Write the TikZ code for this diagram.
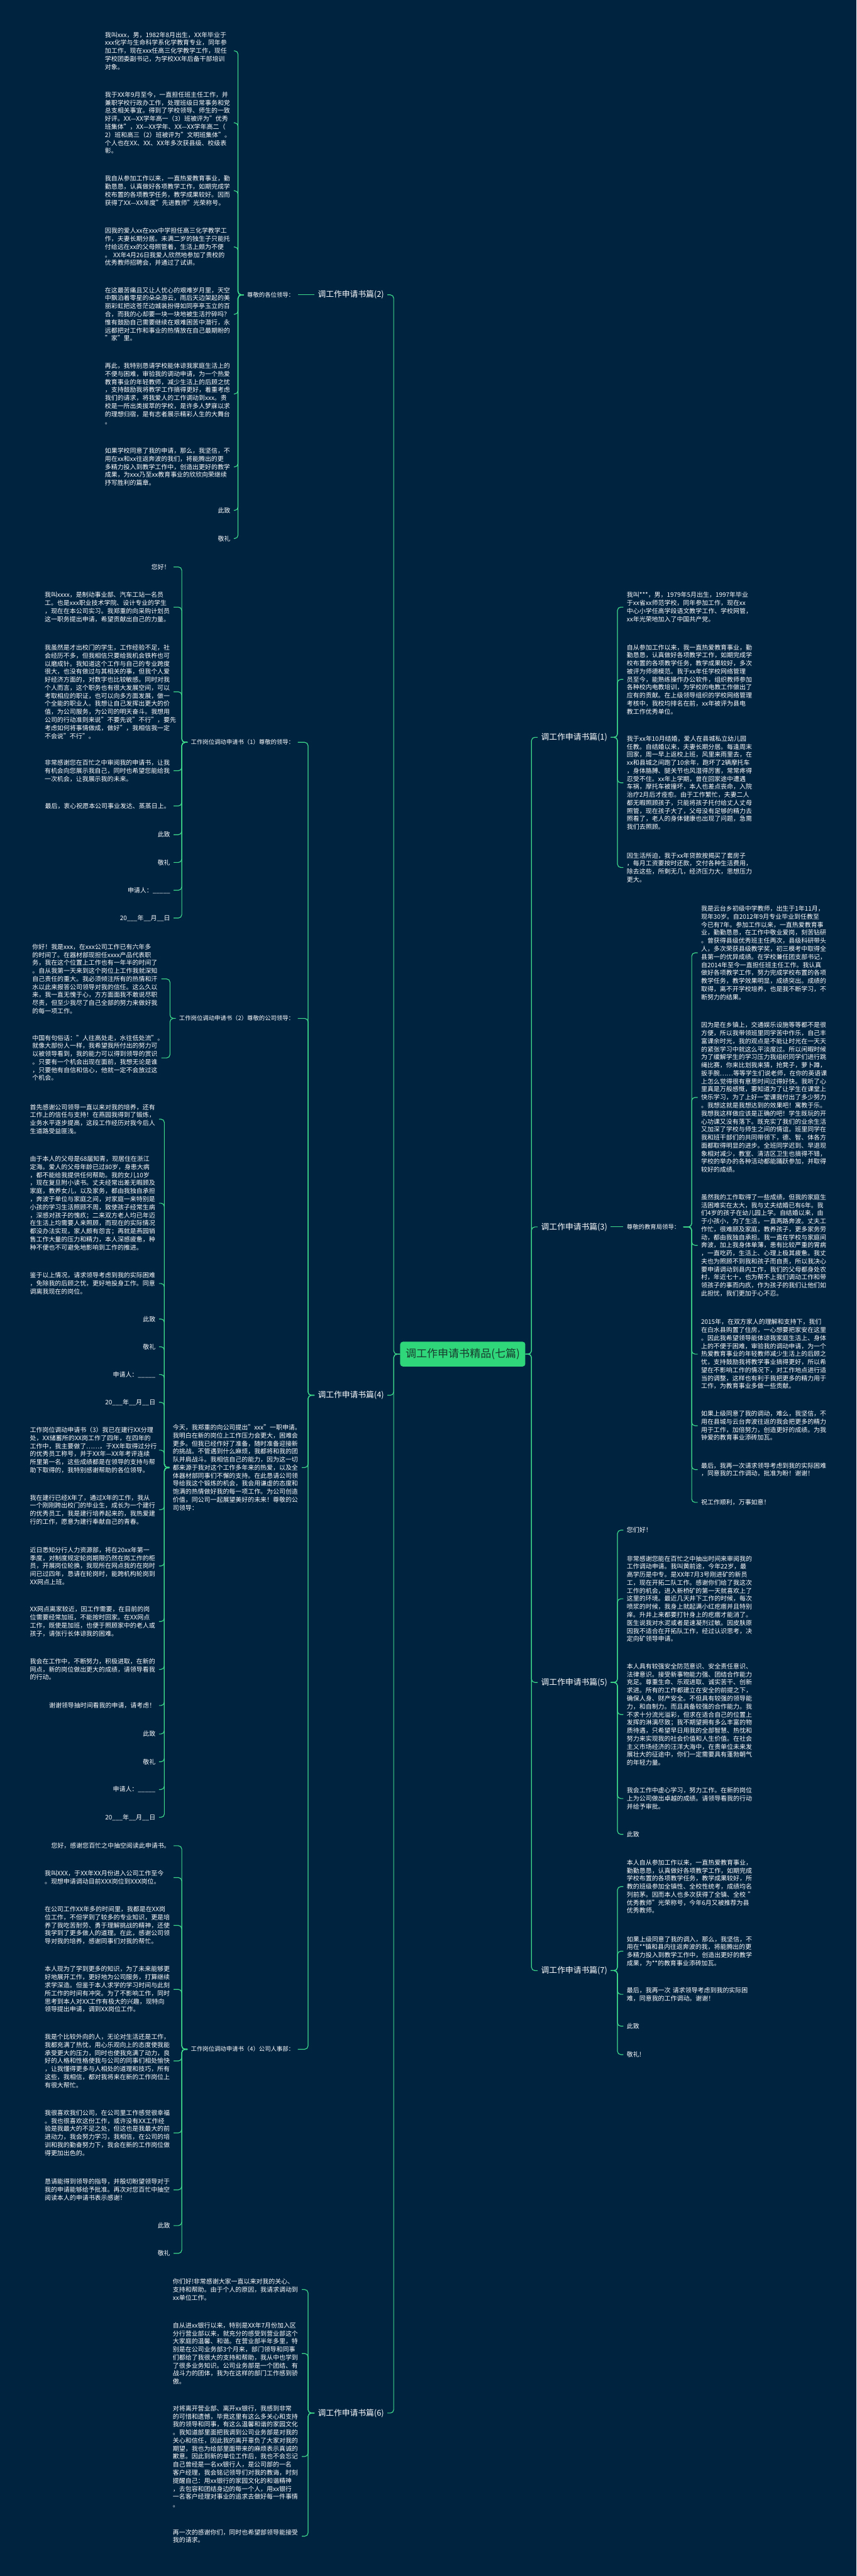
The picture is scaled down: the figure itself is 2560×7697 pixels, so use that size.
\documentclass[tikz,border=0pt]{standalone}
\usepackage{fontspec}
\setmainfont{Noto Sans CJK SC}
\definecolor{bgnavy}{HTML}{002340}
\definecolor{linkgreen}{HTML}{3ED98A}
\definecolor{rootgreen}{HTML}{30D67A}
\definecolor{rootink}{HTML}{173A2E}
\begin{document}
\begin{tikzpicture}[
        x=0.5pt, y=-0.5pt,
        root/.style={rectangle, rounded corners=4pt, fill=rootgreen, text=rootink, font=\fontsize{16pt}{19pt}\selectfont, minimum width=187pt, minimum height=37pt},
        branch/.style={text=white, font=\fontsize{12pt}{14pt}\selectfont, inner xsep=5pt, inner ysep=2pt},
        head/.style={text=white, font=\fontsize{8.8pt}{12pt}\selectfont, inner xsep=5pt, inner ysep=2pt},
        note/.style={text=white, font=\fontsize{9.35pt}{12pt}\selectfont, inner xsep=5pt, inner ysep=2pt},
        para/.style={note, text width=187.5pt, align=left},
        noteL/.style={note, anchor=east}, noteR/.style={note, anchor=west},
        paraL/.style={para, anchor=east}, paraR/.style={para, anchor=west},
        link/.style={draw=linkgreen, line width=1.1pt, rounded corners=5pt}
    ]
        \fill[bgnavy] (0,0) rectangle (2560,7697);
        \useasboundingbox (0,0) rectangle (2560,7697);

        \node[root] (main) at (1383,4046) {调工作申请书精品(七篇)};

        \node[branch, anchor=east] (b2) at (1158,881) {调工作申请书篇(2)};
        \node[branch, anchor=east] (b4) at (1158,4169) {调工作申请书篇(4)};
        \node[branch, anchor=east] (b6) at (1158,7210) {调工作申请书篇(6)};
        \node[branch, anchor=west] (b1) at (1607,2203) {调工作申请书篇(1)};
        \node[branch, anchor=west] (b3) at (1607,3666) {调工作申请书篇(3)};
        \node[branch, anchor=west] (b5) at (1607,5027) {调工作申请书篇(5)};
        \node[branch, anchor=west] (b7) at (1607,5888) {调工作申请书篇(7)};

        \node[head, anchor=east] (h2) at (890,881) {尊敬的各位领导：};
        \node[paraL] (p2t1) at (699,152) {我叫xxx，男，1982年8月出生，XX年毕业于\\xxx化学与生命科学系化学教育专业，同年参\\加工作，现在xxx任高三化学教学工作，现任\\学校团委副书记，为学校XX年后备干部培训\\对象。};
        \node[paraL] (p2t2) at (699,367) {我于XX年9月至今，一直担任班主任工作，并\\兼职学校行政办工作，处理班级日常事务和党\\总支相关事宜。得到了学校领导、师生的一致\\好评。XX—XX学年高一（3）班被评为"优秀\\班集体"，XX—XX学年、XX—XX学年高二（\\2）班和高三（2）班被评为"文明班集体"。\\个人也在XX、XX、XX年多次获县级、校级表\\彰。};
        \node[paraL] (p2t3) at (699,570) {我自从参加工作以来，一直热爱教育事业，勤\\勤恳恳，认真做好各项教学工作，如期完成学\\校布置的各项教学任务，教学成果较好。因而\\获得了XX—XX年度"先进教师"光荣称号。};
        \node[paraL] (p2t4) at (699,738) {因我的爱人xx在xxx中学担任高三化学教学工\\作，夫妻长期分居。未满二岁的独生子只能托\\付给远在xx的父母照管着，生活上颇为不便\\。~XX年4月26日我爱人欣然地参加了贵校的\\优秀教师招聘会，并通过了试讲。};
        \node[paraL] (p2t5) at (699,939) {在这最苦痛且又让人忧心的艰难岁月里，天空\\中飘泊着零星的朵朵游云，雨后天边架起的美\\丽彩虹把这苍茫边城装扮得如同亭亭玉立的百\\合，而我的心却要一块一块地被生活拧碎吗？\\惟有鼓励自己需要继续在艰难困苦中潜行，永\\远都把对工作和事业的热情放在自己最期盼的\\"家"里。};
        \node[paraL] (p2t6) at (699,1177) {再此，我特别恳请学校能体谅我家庭生活上的\\不便与困难，审验我的调动申请，为一个热爱\\教育事业的年轻教师，减少生活上的后顾之忧\\，支持鼓励我将教学工作搞得更好，着重考虑\\我们的请求，将我爱人的工作调动到xxx。贵\\校是一所出类拔萃的学校，是许多人梦寐以求\\的理想归宿，是有志者展示精彩人生的大舞台\\。};
        \node[paraL] (p2t7) at (699,1395) {如果学校同意了我的申请，那么，我坚信，不\\用在xx和xx往返奔波的我们，将能腾出的更\\多精力投入到教学工作中，创造出更好的教学\\成果，为xxx乃至xx教育事业的欣欣向荣继续\\抒写胜利的篇章。};
        \node[noteL] (p2t8) at (699,1525) {此致};
        \node[noteL] (p2t9) at (699,1609) {敬礼};

        \node[head, anchor=east] (q1) at (890,2218) {工作岗位调动申请书（1）尊敬的领导：};
        \node[noteL] (q1t1) at (519,1694) {您好！};
        \node[paraL] (q1t2) at (519,1814) {我叫xxxx，是制动事业部、汽车工站一名员\\工。也是xxx职业技术学院、设计专业的学生\\，现在在本公司实习。我郑重的向采购计划员\\这一职务提出申请，希望贡献出自己的力量。};
        \node[paraL] (q1t3) at (519,2067) {我虽然是才出校门的学生，工作经验不足，社\\会经历不多，但我相信只要给我机会铁杵也可\\以磨成针。我知道这个工作与自己的专业跨度\\很大，也没有做过与其相关的事，但我个人爱\\好经济方面的，对数字也比较敏感。同时对我\\个人而言，这个职务也有很大发展空间，可以\\考取相应的职证，也可以向多方面发展，做一\\个全能的职业人。我想让自己发挥出更大的价\\值，为公司服务，为公司的明天奋斗。我想用\\公司的行动准则来说"不要先说"不行"，要先\\考虑如何将事情做成，做好"，我相信我一定\\不会说"不行"。};
        \node[paraL] (q1t4) at (519,2303) {非常感谢您在百忙之中审阅我的申请书，让我\\有机会向您展示我自己，同时也希望您能给我\\一次机会，让我展示我的未来。};
        \node[noteL] (q1t5) at (519,2408) {最后，衷心祝愿本公司事业发达、蒸蒸日上。};
        \node[noteL] (q1t6) at (519,2494) {此致};
        \node[noteL] (q1t7) at (519,2577) {敬礼};
        \node[noteL] (q1t8) at (519,2660) {申请人：\_\_\_\_\_};
        \node[noteL] (q1t9) at (519,2743) {20\_\_\_年\_\_月\_\_日};

        \node[head, anchor=east] (q2) at (890,3043) {工作岗位调动申请书（2）尊敬的公司领导：};
        \node[paraL] (q2t1) at (482,2925) {你好！我是xxx，在xxx公司工作已有六年多\\的时间了。在器材部现担任xxxx产品代表职\\务，我在这个位置上工作也有一年半的时间了\\。自从我第一天来到这个岗位上工作我就深知\\自己责任的重大。我必须倾注所有的热情和汗\\水以此来报答公司领导对我的信任。这么久以\\来，我一直无愧于心，方方面面我不敢说尽职\\尽责，但至少我尽了自己全部的努力来做好我\\的每一项工作。};
        \node[paraL] (q2t2) at (482,3161) {中国有句俗话："人往高处走，水往低处流"。\\就像大部份人一样，我希望我所付出的努力可\\以被领导看到，我的能力可以得到领导的赏识\\。只要有一个机会出现在面前，我想无论是谁\\，只要他有自信和信心，他就一定不会放过这\\个机会。};

        \node[paraL] (q3) at (902,4385) {今天，我郑重的向公司提出"xxx"一职申请。\\我明白在新的岗位上工作压力会更大，困难会\\更多。但我已经作好了准备，随时准备迎接新\\的挑战。不管遇到什么麻烦，我都将和我的团\\队并肩战斗。我相信自己的能力，因为这一切\\都来源于我对这个工作多年来的热爱，以及全\\体器材部同事们不懈的支持。在此恳请公司领\\导给我这个锻炼的机会，我会用谦虚的态度和\\饱满的热情做好我的每一项工作。为公司创造\\价值，同公司一起展望美好的未来！尊敬的公\\司领导：};
        \node[paraL] (q3t1) at (475,3344) {首先感谢公司领导一直以来对我的培养，还有\\工作上的信任与支持！在燕园我得到了锻炼，\\业务水平逐步提高，这段工作经历对我今后人\\生道路受益匪浅。};
        \node[paraL] (q3t2) at (475,3595) {由于本人的父母是68届知青，现居住在浙江\\定海。爱人的父母年龄已过80岁，身患大病\\，都不能给我提供任何帮助。我的女儿10岁\\，现在复旦附小读书。丈夫经常出差无暇顾及\\家庭，教养女儿，以及家务，都由我独自承担\\，奔波于单位与家庭之间，对家庭一来特别是\\小孩的学习生活照顾不周，致使孩子经常生病\\，深感对孩子的愧疚；二来双方老人均已年迈\\在生活上均需要人来照顾，而现在的实际情况\\都没办法实现，家人颇有怨言；再就是燕园销\\售工作大量的压力和精力，本人深感疲惫，种\\种不便也不可避免地影响到工作的推进。};
        \node[paraL] (q3t3) at (475,3835) {鉴于以上情况，请求领导考虑到我的实际困难\\，免除我的后顾之忧，更好地投身工作。同意\\调离我现在的岗位。};
        \node[noteL] (q3t4) at (475,3941) {此致};
        \node[noteL] (q3t5) at (475,4024) {敬礼};
        \node[noteL] (q3t6) at (475,4107) {申请人：\_\_\_\_\_};
        \node[noteL] (q3t7) at (475,4190) {20\_\_\_年\_\_月\_\_日};
        \node[paraL] (q3t8) at (475,4333) {工作岗位调动申请书（3）我已在建行XX分理\\处，XX储蓄所的XX岗工作了四年，在四年的\\工作中，我主要做了……，于XX年取得过分行\\的优秀员工称号，并于XX年—XX年考评连续\\所里第一名，这些成绩都是在领导的支持与帮\\助下取得的，我特别感谢帮助的各位领导。};
        \node[paraL] (q3t9) at (475,4511) {我在建行已经X年了，通过X年的工作，我从\\一个刚刚跨出校门的毕业生，成长为一个建行\\的优秀员工，我是建行培养起来的，我热爱建\\行的工作，愿意为建行奉献自己的青春。};
        \node[paraL] (q3t10) at (475,4679) {近日悉知分行人力资源部，将在20xx年第一\\季度，对制度规定轮岗期限仍然在岗工作的柜\\员，开展岗位轮换，我现所在网点我的在岗时\\间已过四年，恳请在轮岗时，能跨机构轮岗到\\XX网点上班。};
        \node[paraL] (q3t11) at (475,4845) {XX网点离家较近，因工作需要，在目前的岗\\位需要经常加班，不能按时回家。在XX网点\\工作，既使是加班，也便于照顾家中的老人或\\孩子，请张行长体谅我的困难。};
        \node[paraL] (q3t12) at (475,4988) {我会在工作中，不断努力，积极进取，在新的\\网点，新的岗位做出更大的成绩，请领导看我\\的行动。};
        \node[noteL] (q3t13) at (475,5096) {谢谢领导抽时间看我的申请，请考虑！};
        \node[noteL] (q3t14) at (475,5181) {此致};
        \node[noteL] (q3t15) at (475,5264) {敬礼};
        \node[noteL] (q3t16) at (475,5347) {申请人：\_\_\_\_\_};
        \node[noteL] (q3t17) at (475,5430) {20\_\_\_年\_\_月\_\_日};

        \node[head, anchor=east] (q4) at (890,6123) {工作岗位调动申请书（4）公司人事部：};
        \node[noteL] (q4t1) at (519,5515) {您好，感谢您百忙之中抽空阅读此申请书。};
        \node[paraL] (q4t2) at (519,5610) {我叫XXX，于XX年XX月份进入公司工作至今\\。现想申请调动目前XXX岗位到XXX岗位。};
        \node[paraL] (q4t3) at (519,5753) {在公司工作XX年多的时间里，我都是在XX岗\\位工作，不但学到了较多的专业知识，更是培\\养了我吃苦耐劳、勇于理解挑战的精神，还使\\我学到了更多做人的道理。在此，感谢公司领\\导对我的培养，感谢同事们对我的帮忙。};
        \node[paraL] (q4t4) at (519,5944) {本人现为了学到更多的知识，为了未来能够更\\好地展开工作，更好地为公司服务，打算继续\\求学深造。但鉴于本人求学的学习时间与此刻\\所工作的时间有冲突。为了不影响工作，同时\\思考到本人对XX工作有极大的兴趣，现特向\\领导提出申请，调到XX岗位工作。};
        \node[paraL] (q4t5) at (519,6158) {我是个比较外向的人，无论对生活还是工作，\\我都充满了热忱，用心乐观向上的态度使我能\\承受更大的压力，同时也使我充满了动力，良\\好的人格和性格使我与公司的同事们相处愉快\\，让我懂得更多与人相处的道理和技巧，所有\\这些，我相信，都对我将来在新的工作岗位上\\有很大帮忙。};
        \node[paraL] (q4t6) at (519,6373) {我很喜欢我们公司，在公司里工作感觉很幸福\\。我也很喜欢这份工作，或许没有XX工作经\\验是我最大的不足之处，但这也是我最大的前\\进动力，我会努力学习，我相信，在公司的培\\训和我的勤奋努力下，我会在新的工作岗位做\\得更加出色的。};
        \node[paraL] (q4t7) at (519,6543) {恳请能得到领导的指导，并殷切盼望领导对于\\我的申请能够给予批准。再次对您百忙中抽空\\阅读本人的申请书表示感谢！};
        \node[noteL] (q4t8) at (519,6650) {此致};
        \node[noteL] (q4t9) at (519,6733) {敬礼};

        \node[paraL] (p6t1) at (902,6841) {你们好!非常感谢大家一直以来对我的关心、\\支持和帮助。由于个人的原因，我请求调动到\\xx单位工作。};
        \node[paraL] (p6t2) at (902,7032) {自从进xx银行以来，特别是XX年7月份加入区\\分行营业部以来，就充分的感受到营业部这个\\大家庭的温馨、和谐。在营业部半年多里，特\\别是在公司业务部3个月来，部门领导和同事\\们都给了我很大的支持和帮助，我从中也学到\\了很多业务知识。公司业务部是一个团结、有\\战斗力的团体，我为在这样的部门工作感到骄\\傲。};
        \node[paraL] (p6t3) at (902,7340) {对将离开营业部、离开xx银行，我感到非常\\的可惜和遗憾，毕竟这里有这么多关心和支持\\我的领导和同事，有这么温馨和谐的家园文化\\。我知道部里面把我调到公司业务部是对我的\\关心和信任，因此我的离开辜负了大家对我的\\期望，我也为给部里面带来的麻烦表示真诚的\\歉意。因此到新的单位工作后，我也不会忘记\\自己曾经是一名xx银行人，是公司部的一名\\客户经理，我会铭记领导们对我的教诲，时刻\\提醒自己：用xx银行的家园文化的和谐精神\\，去包容和团结身边的每一个人，用xx银行\\一名客户经理对事业的追求去做好每一件事情\\。};
        \node[paraL] (p6t4) at (902,7578) {再一次的感谢你们，同时也希望部领导能接受\\我的请求。};

        \node[paraR] (p1t1) at (1863,1814) {我叫***，男，1979年5月出生，1997年毕业\\于xx省xx师范学校，同年参加工作，现在xx\\中心小学任高学段语文教学工作、学校网管，\\xx年光荣地加入了中国共产党。};
        \node[paraR] (p1t2) at (1863,2030) {自从参加工作以来，我一直热爱教育事业，勤\\勤恳恳，认真做好各项教学工作，如期完成学\\校布置的各项教学任务，教学成果较好，多次\\被评为师德模范。我于xx年任学校网络管理\\员至今，能熟练操作办公软件，组织教师参加\\各种校内电教培训，为学校的电教工作做出了\\应有的贡献。在上级领导组织的学校网络管理\\考核中，我校均排名在前，xx年被评为县电\\教工作优秀单位。};
        \node[paraR] (p1t3) at (1863,2339) {我于xx年10月结婚，爱人在县城私立幼儿园\\任教。自结婚以来，夫妻长期分居。每逢周末\\回家，周一早上返校上班，风里来雨里去，在\\xx和县城之间跑了10余年，跑坏了2辆摩托车\\，身体胳膊、腿关节也风湿得厉害，常常疼得\\忍受不住。xx年上学期，曾在回家途中遭遇\\车祸，摩托车被撞坏，本人也差点丧命，入院\\治疗2月后才痊愈。由于工作繁忙，夫妻二人\\都无暇照顾孩子，只能将孩子托付给丈人丈母\\照管，现在孩子大了，父母没有足够的精力去\\照看了，老人的身体健康也出现了问题，急需\\我们去照顾。};
        \node[paraR] (p1t4) at (1863,2592) {因生活所迫，我于xx年贷款按揭买了套房子\\，每月工资要按时还款，交付各种生活费用，\\除去这些，所剩无几，经济压力大，思想压力\\更大。};

        \node[head, anchor=west] (h3) at (1863,3666) {尊敬的教育局领导：};
        \node[paraR] (p3t1) at (2085,2847) {我是云台乡初级中学教师，出生于1年11月，\\现年30岁。自2012年9月专业毕业到任教至\\今已有7年。参加工作以来，一直热爱教育事\\业，勤勤恳恳，在工作中敬业爱岗，刻苦钻研\\。曾获得县级优秀班主任两次，县级科研带头\\人，多次荣获县级教学奖，初三模考中取得全\\县第一的优异成绩。在学校兼任团支部书记，\\自2014年至今一直担任班主任工作。我认真\\做好各项教学工作，努力完成学校布置的各项\\教学任务，教学效果明显，成绩突出。成绩的\\取得，离不开学校培养，也是我不断学习，不\\断努力的结果。};
        \node[paraR] (p3t2) at (2085,3279) {因为是在乡镇上，交通娱乐设施等等都不是很\\方便，所以我带领班里同学苦中作乐，自己丰\\富课余时光，我的观点是不能让时光在一天天\\的紧张学习中就这么平淡度过。所以闲暇时候\\为了缓解学生的学习压力我组织同学们进行跳\\绳比赛，你来比划我来猜，抢凳子，萝卜蹲，\\扳手腕……等等学生们说老师，在你的英语课\\上怎么觉得很有意思时间过得好快。我听了心\\里真是万般感慨，要知道为了让学生在课堂上\\快乐学习，为了上好一堂课我付出了多少努力\\。我想这就是我想达到的效果吧！寓教于乐。\\我想我这样做应该是正确的吧！学生既玩的开\\心功课又没有落下。既充实了我们的业余生活\\又加深了学校与师生之间的情谊。班里同学在\\我和班干部们的共同带领下，德、智、体各方\\面都取得明显的进步。全班同学迟到、早退现\\象相对减少，教室、清洁区卫生也搞得不错，\\学校的举办的各种活动都能踊跃参加，并取得\\较好的成绩。};
        \node[paraR] (p3t3) at (2085,3721) {虽然我的工作取得了一些成绩，但我的家庭生\\活困难实在太大，我与丈夫结婚已有6年。我\\们4岁的孩子在幼儿园上学。自结婚以来，由\\于小孩小，为了生活，一直两路奔波。丈夫工\\作忙，很难顾及家庭，教养孩子，更多家务劳\\动，都由我独自承担。我一直在学校与家庭间\\奔波，加上我身体单薄，患有比较严重的胃病\\，一直吃药，生活上、心理上极其疲惫。我丈\\夫也为照顾不到我和孩子而自责，所以我决心\\要申请调动到县内工作，我们的父母都身处农\\村，年近七十，也为帮不上我们调动工作和带\\领孩子的事而内疚，作为孩子的我们让他们如\\此担忧，我们更加于心不忍。};
        \node[paraR] (p3t4) at (2085,4046) {2015年，在双方家人的理解和支持下，我们\\在白水县购置了住房，一心想要把家安在这里\\。因此我希望领导能体谅我家庭生活上、身体\\上的不便于困难，审验我的调动申请，为一个\\热爱教育事业的年轻教师减少生活上的后顾之\\忧，支持鼓励我将教学事业搞得更好，所以希\\望在不影响工作的情况下，对工作地点进行适\\当的调整，这样也有利于我把更多的精力用于\\工作，为教育事业多做一些贡献。};
        \node[paraR] (p3t5) at (2085,4260) {如果上级同意了我的调动，难么，我坚信，不\\用在县城与云台奔波往返的我会把更多的精力\\用于工作，加倍努力，创造更好的成绩。为我\\钟爱的教育事业添砖加瓦。};
        \node[paraR] (p3t6) at (2085,4391) {最后，我再一次请求领导考虑到我的实际困难\\，同意我的工作调动，批准为盼！谢谢！};
        \node[noteR] (p3t7) at (2085,4489) {祝工作顺利，万事如意！};

        \node[noteR] (p5t1) at (1863,4572) {您们好！};
        \node[paraR] (p5t2) at (1863,4777) {非常感谢您能在百忙之中抽出时间来审阅我的\\工作调动申请。我叫黄前途，今年22岁，最\\高学历是中专。是XX年7月3号刚进矿的新员\\工，现在开拓二队工作。感谢你们给了我这次\\工作的机会，进入新桥矿的第一天就喜欢上了\\这里的环境。最近几天井下工作的时候，每次\\喷浆的时候，我身上就起满小红疙瘩并且特别\\痒。升井上来都要打针身上的疙瘩才能消了。\\医生说我对水泥或者是速凝剂过敏。因皮肤原\\因我不适合在开拓队工作，经过认识思考，决\\定向矿领导申请。};
        \node[paraR] (p5t3) at (1863,5123) {本人具有较强安全防范意识、安全责任意识、\\法律意识。接受新事物能力强、团结合作能力\\充足。尊重生命、乐观进取、诚实苦干、创新\\求进。所有的工作都建立在安全的前提之下，\\确保人身、财产安全。不但具有较强的领导能\\力，和自制力。而且具备较强的合作能力。我\\不求十分流光溢彩，但求在适合自己的位置上\\发挥的淋漓尽致；我不期望拥有多么丰富的物\\质待遇，只希望早日用我的全部智慧、热忱和\\努力来实现我的社会价值和人生价值。在社会\\主义市场经济的汪洋大海中，在贵单位未来发\\展壮大的征途中，你们一定需要具有蓬勃朝气\\的年轻力量。};
        \node[paraR] (p5t4) at (1863,5374) {我会工作中虚心学习，努力工作。在新的岗位\\上为公司做出卓越的成绩。请领导看我的行动\\并给予审批。};
        \node[noteR] (p5t5) at (1863,5481) {此致};

        \node[paraR] (p7t1) at (1863,5637) {本人自从参加工作以来，一直热爱教育事业，\\勤勤恳恳，认真做好各项教学工作，如期完成\\学校布置的各项教学任务，教学成果较好，所\\教的班级参加全镇性、全校性统考，成绩均名\\列前茅。因而本人也多次获得了全镇、全校~"\\优秀教师"光荣称号，今年6月又被推荐为县\\优秀教师。};
        \node[paraR] (p7t2) at (1863,5830) {如果上级同意了我的调入，那么，我坚信，不\\用在**镇和县内往返奔波的我，将能腾出的更\\多精力投入到教学工作中，创造出更好的教学\\成果，为**的教育事业添砖加瓦。};
        \node[paraR] (p7t3) at (1863,5959) {最后，我再一次~请求领导考虑到我的实际困\\难，同意我的工作调动。谢谢！};
        \node[noteR] (p7t4) at (1863,6054) {此致};
        \node[noteR] (p7t5) at (1863,6139) {敬礼!};

        \foreach \b in {b2,b4,b6} \draw[link] (main.west) -- ++(-19,0) |- (\b.east);
        \foreach \b in {b1,b3,b5,b7} \draw[link] (main.east) -- ++(18,0) |- (\b.west);
        \draw[link] (b2.west) -- (h2.east);
        \draw[link] (b3.east) -- (h3.west);
        \foreach \n in {1,...,9} \draw[link] (h2.west) -- ++(-17,0) |- (p2t\n.east);
        \foreach \q in {q1,q2,q3,q4} \draw[link] (b4.west) -- ++(-19,0) |- (\q.east);
        \foreach \n in {1,...,9} \draw[link] (q1.west) -- ++(-17,0) |- (q1t\n.east);
        \foreach \n in {1,2} \draw[link] (q2.west) -- ++(-17,0) |- (q2t\n.east);
        \foreach \n in {1,...,17} \draw[link] (q3.west) -- ++(-15,0) |- (q3t\n.east);
        \foreach \n in {1,...,9} \draw[link] (q4.west) -- ++(-17,0) |- (q4t\n.east);
        \foreach \n in {1,...,4} \draw[link] (b6.west) -- ++(-19,0) |- (p6t\n.east);
        \foreach \n in {1,...,4} \draw[link] (b1.east) -- ++(20,0) |- (p1t\n.west);
        \foreach \n in {1,...,7} \draw[link] (h3.east) -- ++(25,0) |- (p3t\n.west);
        \foreach \n in {1,...,5} \draw[link] (b5.east) -- ++(20,0) |- (p5t\n.west);
        \foreach \n in {1,...,5} \draw[link] (b7.east) -- ++(20,0) |- (p7t\n.west);
    \end{tikzpicture}
\end{document}
